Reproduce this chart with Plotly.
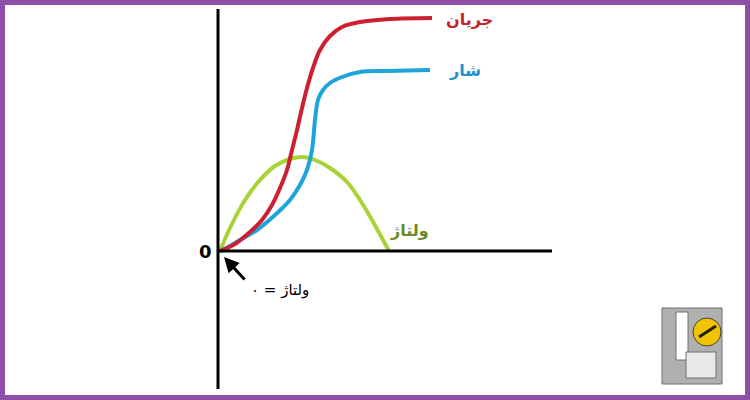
import plotly.graph_objects as go

# Curves (x, y) in chart units: origin at the axes crossing, y upward
current_x = [2, 17, 32, 44, 54, 62, 69, 74, 79, 84, 89, 95, 102, 112, 124, 142, 172, 214]
current_y = [0, 7, 19, 31, 46, 63, 81, 101, 121, 143, 163, 183, 201, 215, 224, 229, 232, 233]

flux_x = [2, 12, 22, 39, 57, 72, 82, 89, 94, 97, 100, 105, 112, 124, 142, 169, 212]
flux_y = [0, 5, 11, 21, 36, 51, 66, 81, 101, 131, 151, 161, 168, 174, 179, 180, 181]

voltage_x = [2, 12, 27, 42, 57, 72, 84, 97, 112, 129, 142, 154, 165, 171]
voltage_y = [0, 23, 51, 71, 85, 92, 94, 91, 83, 69, 51, 31, 11, 0]

fig = go.Figure()

fig.add_trace(go.Scatter(x=voltage_x, y=voltage_y, mode="lines",
                         line=dict(color="#A9D236", width=4, shape="spline"),
                         hoverinfo="skip"))
fig.add_trace(go.Scatter(x=flux_x, y=flux_y, mode="lines",
                         line=dict(color="#1EA3DA", width=4, shape="spline"),
                         hoverinfo="skip"))
fig.add_trace(go.Scatter(x=current_x, y=current_y, mode="lines",
                         line=dict(color="#CC1F32", width=4, shape="spline"),
                         hoverinfo="skip"))

shapes = [
    # axes
    dict(type="line", xref="x", yref="y", x0=0, y0=-138, x1=0, y1=242,
         line=dict(color="black", width=3)),
    dict(type="line", xref="x", yref="y", x0=0, y0=0, x1=334, y1=0,
         line=dict(color="black", width=3)),
    # purple frame
    dict(type="rect", xref="paper", yref="paper", x0=0, y0=0, x1=1, y1=1,
         line=dict(color="#8E4EA8", width=10), layer="above"),
]

# logo approximation (pixel-based paper coords)
def px(x, y):
    return x / 750, 1 - y / 400

lx0, ly0 = px(662, 308)
lx1, ly1 = px(722, 384)
shapes += [
    dict(type="rect", xref="paper", yref="paper", x0=lx0, y0=ly1, x1=lx1, y1=ly0,
         fillcolor="#B0B0B0", line=dict(color="#707070", width=1)),
]
a0, b0 = px(676, 312)
a1, b1 = px(688, 360)
shapes.append(dict(type="rect", xref="paper", yref="paper", x0=a0, y0=b1, x1=a1, y1=b0,
                   fillcolor="white", line=dict(color="#707070", width=1)))
a0, b0 = px(686, 352)
a1, b1 = px(716, 378)
shapes.append(dict(type="rect", xref="paper", yref="paper", x0=a0, y0=b1, x1=a1, y1=b0,
                   fillcolor="#E8E8E8", line=dict(color="#707070", width=1)))
c0x, c0y = px(693, 318)
c1x, c1y = px(721, 346)
shapes.append(dict(type="circle", xref="paper", yref="paper", x0=c0x, y0=c1y, x1=c1x, y1=c0y,
                   fillcolor="#F2C300", line=dict(color="#404040", width=1)))
d0x, d0y = px(699, 337)
d1x, d1y = px(716, 326)
shapes.append(dict(type="line", xref="paper", yref="paper", x0=d0x, y0=d0y, x1=d1x, y1=d1y,
                   line=dict(color="#202020", width=3)))

annotations = [
    dict(x=226, y=232, xref="x", yref="y", text="<b>جریان</b>", showarrow=False,
         xanchor="left", font=dict(family="DejaVu Sans", size=16, color="#C8202C")),
    dict(x=229, y=181, xref="x", yref="y", text="<b>شار</b>", showarrow=False,
         xanchor="left", font=dict(family="DejaVu Sans", size=16, color="#2092D2")),
    dict(x=191, y=21, xref="x", yref="y", text="<b>ولتاژ</b>", showarrow=False,
         xanchor="center", font=dict(family="DejaVu Sans", size=16, color="#6B8A28")),
    dict(x=-13, y=0, xref="x", yref="y", text="<b>0</b>", showarrow=False,
         xanchor="center", font=dict(family="DejaVu Sans", size=18, color="black")),
    dict(x=62, y=-39, xref="x", yref="y", text="ولتاژ = ۰", showarrow=False,
         xanchor="center", font=dict(family="DejaVu Sans", size=15, color="black")),
    dict(x=6, y=-6, xref="x", yref="y", ax=28, ay=-30, axref="x", ayref="y",
         text="", showarrow=True, arrowhead=2, arrowsize=1, arrowwidth=3,
         arrowcolor="black"),
]

fig.update_layout(
    width=750, height=400, autosize=False,
    margin=dict(l=0, r=0, t=0, b=0),
    paper_bgcolor="white", plot_bgcolor="white",
    showlegend=False,
    xaxis=dict(range=[-218, 532], visible=False, fixedrange=True),
    yaxis=dict(range=[-149, 251], visible=False, fixedrange=True),
    shapes=shapes, annotations=annotations,
)

fig.write_html("out.html", config={"displayModeBar": False},
               post_script="document.body.style.margin='0';document.body.style.overflow='hidden';")
